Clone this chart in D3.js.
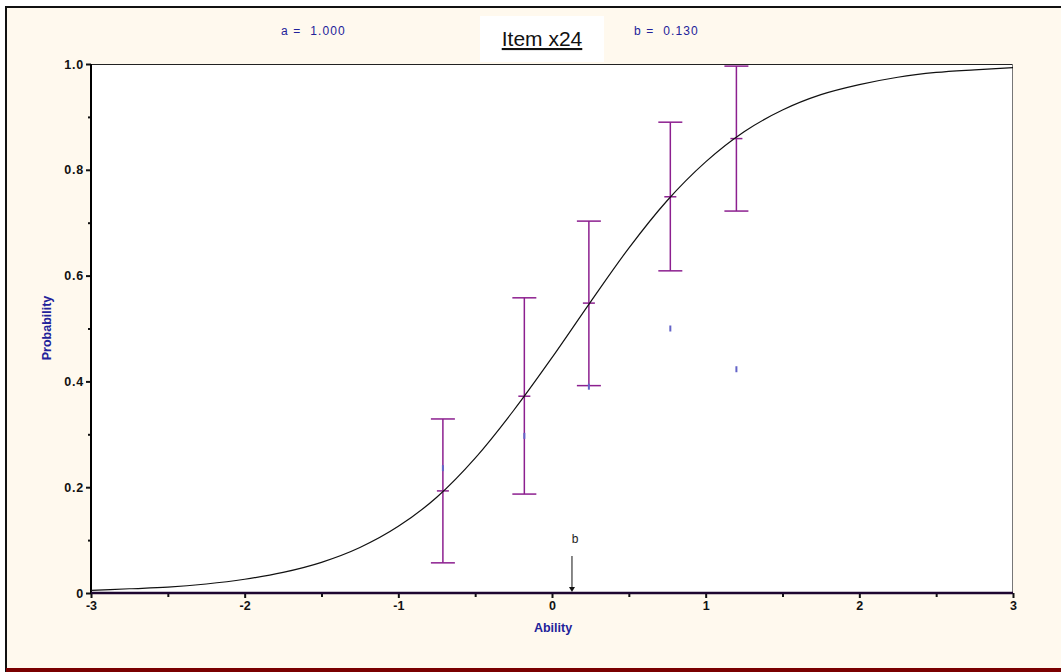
<!DOCTYPE html>
<html>
<head>
<meta charset="utf-8">
<script src="https://cdn.jsdelivr.net/npm/d3@7"></script>
<style>
  html, body { margin: 0; padding: 0; background: #fff; }
  svg { display: block; font-family: "Liberation Sans", Arial, sans-serif; }
  .param { white-space: pre; }
</style>
</head>
<body>
<div id="chart"></div>
<script>
// item parameters shown in the header
const itemName = "Item x24";
const paramA = "1.000";
const paramB = 0.130;

// ability grid and fitted probabilities
const curveTheta = [-3, -2.75, -2.5, -2.25, -2, -1.75, -1.5, -1.25, -1, -0.75, -0.5, -0.25,
                    0, 0.25, 0.5, 0.75, 1, 1.25, 1.5, 1.75, 2, 2.25, 2.5, 2.75, 3];
const curveProb = [0.005, 0.008, 0.011, 0.017, 0.026, 0.039, 0.058, 0.086, 0.126, 0.181, 0.255, 0.345,
                   0.445, 0.550, 0.652, 0.742, 0.815, 0.872, 0.913, 0.942, 0.961, 0.975, 0.984, 0.989, 0.993];

// group error bars
const groupTheta = [-0.71, -0.18, 0.24, 0.77, 1.20];
const groupMid   = [0.193, 0.372, 0.548, 0.749, 0.859];
const groupLow   = [0.057, 0.187, 0.392, 0.609, 0.722];
const groupHigh  = [0.329, 0.558, 0.703, 0.890, 0.996];
const groupObs   = [0.236, 0.297, 0.390, 0.500, 0.423];

const xMajor = [-3, -2, -1, 0, 1, 2, 3];
const xMinor = [-2.5, -1.5, -0.5, 0.5, 1.5, 2.5];
const yMajor = [0, 0.2, 0.4, 0.6, 0.8, 1.0];
const yMinor = [0.1, 0.3, 0.5, 0.7, 0.9];

const w = 1061, h = 672;
const plotL = 91, plotR = 1013, plotT = 64, plotB = 593;

const navy = "#22229a";
const purple = "#8c1f8f";

const svg = d3.select("#chart").append("svg")
    .attr("width", w)
    .attr("height", h);

// frame
svg.append("rect").attr("x", 0).attr("y", 0).attr("width", w).attr("height", h).attr("fill", "#fff");
svg.append("rect").attr("x", 6).attr("y", 7).attr("width", w - 6).attr("height", h - 7).attr("fill", "#fff9ee");
svg.append("line").attr("x1", 5).attr("x2", w).attr("y1", 7).attr("y2", 7).attr("stroke", "#111").attr("stroke-width", 2);
svg.append("line").attr("x1", 6).attr("x2", 6).attr("y1", 6).attr("y2", h).attr("stroke", "#111").attr("stroke-width", 2);
svg.append("rect").attr("x", 6).attr("y", 668).attr("width", w - 6).attr("height", 4).attr("fill", "#7a0000");

let xScale = d3.scaleLinear().domain([-3, 3]).range([plotL, plotR]);
let yScale = d3.scaleLinear().domain([0, 1]).range([plotB, plotT]);

// plot area
svg.append("rect")
    .attr("x", plotL).attr("y", plotT)
    .attr("width", plotR - plotL).attr("height", plotB - plotT)
    .attr("fill", "#fff");
svg.append("line").attr("x1", plotL).attr("x2", plotR).attr("y1", plotT + 0.5).attr("y2", plotT + 0.5)
    .attr("stroke", "#222").attr("stroke-width", 1);
svg.append("line").attr("x1", plotR - 0.5).attr("x2", plotR - 0.5).attr("y1", plotT).attr("y2", plotB)
    .attr("stroke", "#777").attr("stroke-width", 1);

// header
svg.append("rect").attr("x", 480).attr("y", 16).attr("width", 124).attr("height", 46).attr("fill", "#fff");
svg.append("text")
    .attr("x", 542).attr("y", 46)
    .attr("text-anchor", "middle")
    .attr("font-size", 21)
    .attr("fill", "#111")
    .attr("text-decoration", "underline")
    .text(itemName);
svg.append("text")
    .attr("class", "param")
    .attr("x", 281).attr("y", 35)
    .attr("font-size", 12).attr("letter-spacing", 1.1)
    .attr("fill", navy)
    .text("a =  " + paramA);
svg.append("text")
    .attr("class", "param")
    .attr("x", 634).attr("y", 35)
    .attr("font-size", 12).attr("letter-spacing", 1.1)
    .attr("fill", navy)
    .text("b =  " + paramB.toFixed(3));

// axes
function styleAxis(g, color, width) {
    g.select(".domain").remove();
    g.selectAll(".tick line").attr("stroke", color).attr("stroke-width", width);
    g.selectAll(".tick text")
        .attr("font-family", "Liberation Sans, Arial, sans-serif")
        .attr("font-size", 12.5)
        .attr("font-weight", "bold")
        .attr("fill", "#111");
}

let xAxis = d3.axisBottom(xScale).tickValues(xMajor).tickSize(5).tickPadding(3)
    .tickFormat(d => d3.format("d")(d).replace("−", "-"));
let xg = svg.append("g").attr("transform", "translate(0," + plotB + ")").call(xAxis);
styleAxis(xg, "#111", 2);

let xMinorAxis = d3.axisBottom(xScale).tickValues(xMinor).tickSize(4).tickFormat("");
let xmg = svg.append("g").attr("transform", "translate(0," + plotB + ")").call(xMinorAxis);
styleAxis(xmg, "#111", 2);

let yAxis = d3.axisLeft(yScale).tickValues(yMajor).tickSize(5).tickPadding(2)
    .tickFormat(d => d === 0 ? "0" : d3.format(".1f")(d));
let yg = svg.append("g").attr("transform", "translate(" + plotL + ",0)").call(yAxis);
styleAxis(yg, "#111", 2);
yg.selectAll(".tick text").attr("letter-spacing", 0.8);

let yMinorAxis = d3.axisLeft(yScale).tickValues(yMinor).tickSize(3).tickFormat("");
let ymg = svg.append("g").attr("transform", "translate(" + plotL + ",0)").call(yMinorAxis);
styleAxis(ymg, "#111", 2);

// axis lines
svg.append("line").attr("x1", plotL).attr("x2", plotL).attr("y1", plotT).attr("y2", plotB + 1)
    .attr("stroke", "#000").attr("stroke-width", 2);
svg.append("line").attr("x1", plotL).attr("x2", plotR).attr("y1", plotB).attr("y2", plotB)
    .attr("stroke", "#1e0630").attr("stroke-width", 2.5);

// axis titles
svg.append("text")
    .attr("x", 553).attr("y", 632)
    .attr("text-anchor", "middle")
    .attr("font-size", 12.5).attr("font-weight", "bold")
    .attr("fill", navy)
    .text("Ability");
svg.append("text")
    .attr("transform", "translate(51,328) rotate(-90)")
    .attr("text-anchor", "middle")
    .attr("font-size", 12.5).attr("font-weight", "bold")
    .attr("fill", navy)
    .text("Probability");

// error bars
let groups = groupTheta.map((t, i) => ({
    t: t, mid: groupMid[i], lo: groupLow[i], hi: groupHigh[i], obs: groupObs[i]
}));

let bars = svg.append("g").attr("stroke", purple).attr("stroke-width", 1.5).attr("fill", "none");
bars.selectAll(".stem").data(groups).enter().append("line")
    .attr("x1", d => xScale(d.t)).attr("x2", d => xScale(d.t))
    .attr("y1", d => yScale(d.hi)).attr("y2", d => yScale(d.lo));
bars.selectAll(".capHi").data(groups).enter().append("line")
    .attr("x1", d => xScale(d.t) - 12).attr("x2", d => xScale(d.t) + 12)
    .attr("y1", d => yScale(d.hi)).attr("y2", d => yScale(d.hi));
bars.selectAll(".capLo").data(groups).enter().append("line")
    .attr("x1", d => xScale(d.t) - 12).attr("x2", d => xScale(d.t) + 12)
    .attr("y1", d => yScale(d.lo)).attr("y2", d => yScale(d.lo));
bars.selectAll(".mid").data(groups).enter().append("line")
    .attr("x1", d => xScale(d.t) - 6).attr("x2", d => xScale(d.t) + 6)
    .attr("y1", d => yScale(d.mid)).attr("y2", d => yScale(d.mid));

// observed marks
svg.append("g").selectAll("line").data(groups).enter().append("line")
    .attr("x1", d => xScale(d.t)).attr("x2", d => xScale(d.t))
    .attr("y1", d => yScale(d.obs) - 3).attr("y2", d => yScale(d.obs) + 3)
    .attr("stroke", "#6464c8").attr("stroke-width", 2);

// item characteristic curve
let curveData = curveTheta.map((t, i) => ({ t: t, p: curveProb[i] }));
let line = d3.line()
    .x(d => xScale(d.t))
    .y(d => yScale(d.p))
    .curve(d3.curveMonotoneX);
svg.append("path")
    .datum(curveData)
    .attr("d", line)
    .attr("fill", "none")
    .attr("stroke", "#111")
    .attr("stroke-width", 1.2);

// difficulty marker
let bx = xScale(paramB);
svg.append("line").attr("x1", bx).attr("x2", bx).attr("y1", 556).attr("y2", plotB - 5)
    .attr("stroke", "#111").attr("stroke-width", 1);
svg.append("path")
    .attr("d", "M" + (bx - 3) + "," + (plotB - 6) + "L" + (bx + 3) + "," + (plotB - 6) + "L" + bx + "," + (plotB - 1) + "Z")
    .attr("fill", "#111");
svg.append("text")
    .attr("x", bx + 3).attr("y", 543)
    .attr("text-anchor", "middle")
    .attr("font-size", 12)
    .attr("fill", "#222")
    .text("b");
</script>
</body>
</html>
